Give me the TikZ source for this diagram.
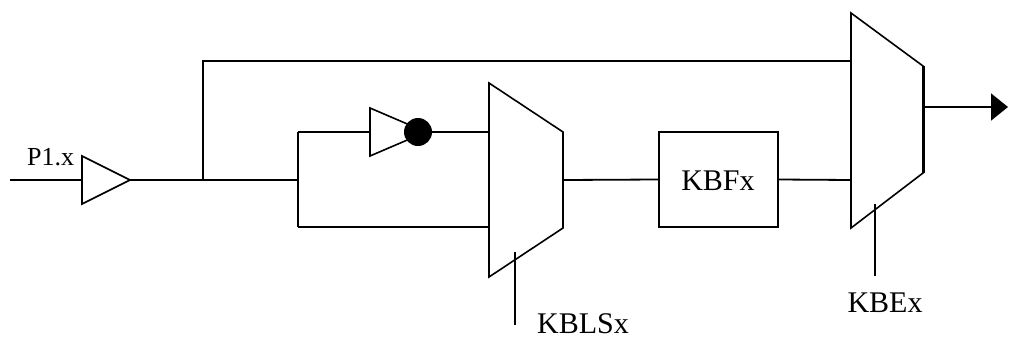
\documentclass[tikz,border=0pt]{standalone}
\usepackage{fontspec}
\setmainfont{Liberation Serif}
\usetikzlibrary{arrows.meta}
\begin{document}
\begin{tikzpicture}[x=1pt,y=-1pt,
  wire/.style={line width=1.8pt},
  gate/.style={line width=1.6pt, fill=white, line join=miter},
  big/.style={font=\fontsize{30}{30}\selectfont, inner sep=0pt, text depth=0pt},
  small/.style={font=\fontsize{26}{26}\selectfont, inner sep=0pt}]
\useasboundingbox (0,0) rectangle (1009,338);
% key coordinates
\coordinate (in) at (10,180);
\coordinate (bufin) at (82,180);
\coordinate (bufout) at (130,180);
\coordinate (tap) at (203,180);
\coordinate (tapup) at (203,61);
\coordinate (split) at (298,180);
\coordinate (splitup) at (298,132);
\coordinate (splitdn) at (298,227);
\coordinate (invin) at (370,132);
\coordinate (m1a) at (489,132);
\coordinate (m1b) at (489,227);
\coordinate (m1out) at (563,180);
\coordinate (kbein1) at (851,61);
\coordinate (kbein2) at (851,180);
\coordinate (kbeout) at (923,107);
\coordinate (arrowend) at (1008,107);
\coordinate (l1top) at (515,252);
\coordinate (l1bot) at (515,325);
\coordinate (l2top) at (875,204);
\coordinate (l2bot) at (875,276);
% buffer
\draw[gate] (82,156) -- (130,180) -- (82,204) -- cycle;
\node[small, anchor=base west] (p1) at (27,165) {P1.x};
% inverter
\draw[gate] (370,108) -- (426,132) -- (370,156) -- cycle;
\node[circle, fill=black, minimum size=28pt, inner sep=0pt] (bub) at (418,132) {};
% mux 1
\draw[gate] (489,83) -- (563,132) -- (563,228) -- (489,277) -- cycle;
% KBF box
\node[draw, line width=1.8pt, minimum width=119pt, minimum height=95pt, inner sep=0pt] (kbf) at (718.5,179.5) {};
\node[big] (kbft) at (718,181) {KBFx};
% mux 2
\draw[gate] (851,13) -- (923,66) -- (923,173) -- (851,228) -- cycle;
\draw[line width=3pt] (923,66) -- (923,173);
% wires
\draw[wire] (in) -- (bufin);
\draw[wire] (bufout) -- (split);
\draw[wire] (tap) -- (tapup) -- (kbein1);
\draw[wire] (splitup) -- (splitdn);
\draw[wire] (splitup) -- (invin);
\draw[wire] (splitdn) -- (m1b);
\draw[wire] (bub.east) -- (m1a);
\draw[wire] (m1out) -- (kbf.west);
\draw[wire] (kbf.east) -- (kbein2);
\draw[wire, -{Triangle[length=17pt,width=27pt]}] (kbeout) -- (arrowend);
% label leaders
\draw[wire] (l1top) -- (l1bot);
\draw[wire] (l2top) -- (l2bot);
\node[big, anchor=base west] (kbls) at (537,333) {KBLSx};
\node[big, anchor=base] (kbe) at (885,312) {KBEx};
\end{tikzpicture}
\end{document}
